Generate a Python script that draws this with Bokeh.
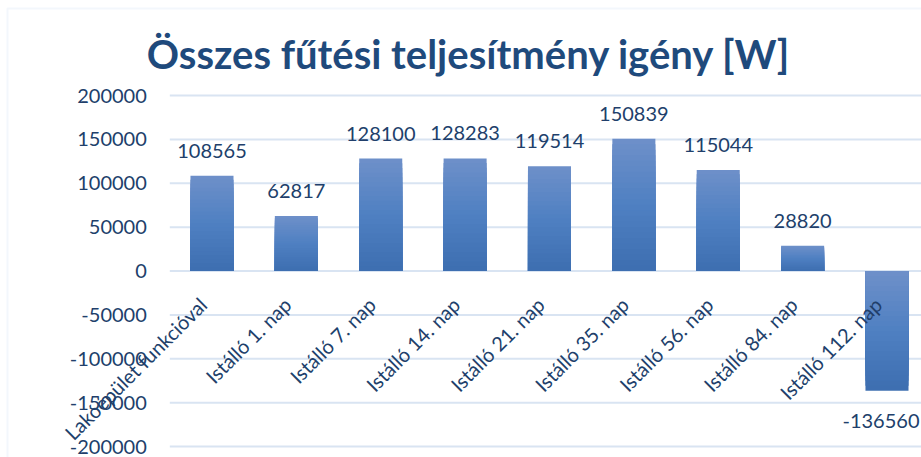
import math
from bokeh.plotting import figure
from bokeh.models import Range1d, ColumnDataSource, LabelSet, Label, BoxAnnotation
from bokeh.core.properties import value
from bokeh.embed import file_html
from bokeh.resources import INLINE

categories = ["Lakóépület funkcióval", "Istálló 1. nap", "Istálló 7. nap",
              "Istálló 14. nap", "Istálló 21. nap", "Istálló 35. nap",
              "Istálló 56. nap", "Istálló 84. nap", "Istálló 112. nap"]
values = [108565, 62817, 128100, 128283, 119514, 150839, 115044, 28820, -136560]
y_ticks = [-200000, -150000, -100000, -50000, 0, 50000, 100000, 150000, 200000]
y_tick_labels = ["-200000", "-150000", "-100000", "-50000", "0",
                 "50000", "100000", "150000", "200000"]
title_text = "Összes fűtési teljesítmény igény [W]"

FONT = "Lato"
TEXT_COLOR = "#213f6b"
TITLE_COLOR = "#1f4a7c"
GRID_COLOR = "#d9e4f2"
BORDER_COLOR = "#d6e4f5"
GRAD = [(110, 144, 201), (79, 128, 194), (61, 110, 176)]  # top, middle, bottom

W, H = 921, 457
# layout of the plotting area inside the canvas (pixels)
PLOT_LEFT, PLOT_TOP, PLOT_BOTTOM_VAL_PX = 169.3, 95, 446
CAT_W = 84.375            # pixels per category
Y_MIN, Y_MAX = y_ticks[0], y_ticks[-1]
PX_PER_UNIT = (PLOT_BOTTOM_VAL_PX - PLOT_TOP) / (Y_MAX - Y_MIN)

x_start = -0.5 - PLOT_LEFT / CAT_W
x_end = x_start + W / CAT_W
y_end = Y_MAX + PLOT_TOP / PX_PER_UNIT
y_start = y_end - H / PX_PER_UNIT


def px_x(px):
    return x_start + px / CAT_W


def px_y(py):
    return y_end - py / PX_PER_UNIT


def grad_color(t):
    if t <= 0.5:
        a, b, f = GRAD[0], GRAD[1], t / 0.5
    else:
        a, b, f = GRAD[1], GRAD[2], (t - 0.5) / 0.5
    r, g, bl = (round(a[i] + (b[i] - a[i]) * f) for i in range(3))
    return "#%02x%02x%02x" % (r, g, bl)


xs = list(range(len(categories)))

p = figure(width=W, height=H, output_backend="svg", toolbar_location=None,
           x_range=Range1d(x_start, x_end), y_range=Range1d(y_start, y_end),
           min_border=0)
p.outline_line_color = None
p.background_fill_color = "white"
p.border_fill_color = "white"
p.xaxis.visible = False
p.yaxis.visible = False
p.grid.visible = False

# chart area border
p.add_layout(BoxAnnotation(left=7, right=W + 40, top=8, bottom=H + 40,
                           left_units="canvas", right_units="canvas",
                           top_units="canvas", bottom_units="canvas",
                           fill_color=None, line_color=BORDER_COLOR, line_width=2,
                           level="underlay"))

# title
p.add_layout(Label(x=px_x(468.5), y=px_y(53), text=title_text,
                   text_align="center", text_baseline="alphabetic",
                   text_font=FONT, text_font_style="bold", text_font_size="40px",
                   text_color=TITLE_COLOR))

# horizontal gridlines across the category area
p.segment(x0=[-0.5] * len(y_ticks), x1=[x_end] * len(y_ticks),
          y0=y_ticks, y1=y_ticks, line_color=GRID_COLOR, line_width=2)

# y tick labels
ysrc = ColumnDataSource(dict(x=[-0.5] * len(y_ticks), y=y_ticks, t=y_tick_labels))
p.add_layout(LabelSet(x="x", y="y", text="t", source=ysrc, x_offset=-23,
                      text_align="right", text_baseline="middle",
                      text_font=value(FONT), text_font_size=value("20px"),
                      text_color=value(TEXT_COLOR)))

# bars with vertical gradient (light at top, darker at bottom)
N = 24
for k in range(N - 1, -1, -1):
    tops = [v * (k + 1) / N for v in values]
    cols = [grad_color(1 - (k + 0.5) / N) if v >= 0 else grad_color((k + 0.5) / N)
            for v in values]
    p.vbar(x=xs, top=tops, bottom=0, width=0.51, fill_color=cols, line_color=None)

# data labels
src = ColumnDataSource(dict(
    x=xs, top=values,
    label=[str(v) for v in values],
    yoff=[18 if v >= 0 else -37 for v in values],
    xoff=[0 if v >= 0 else -6 for v in values],
))
p.add_layout(LabelSet(x="x", y="top", text="label", source=src,
                      x_offset="xoff", y_offset="yoff",
                      text_align="center", text_baseline="alphabetic",
                      text_font=value(FONT), text_font_size=value("20px"),
                      text_color=value(TEXT_COLOR)))

# category labels, rotated 45 degrees, ending just below the zero line
csrc = ColumnDataSource(dict(x=xs, y=[0] * len(xs), cat=categories))
p.add_layout(LabelSet(x="x", y="y", text="cat", source=csrc,
                      angle=math.pi / 4, x_offset=-9, y_offset=-30,
                      text_align="right", text_baseline="middle",
                      text_font=value(FONT), text_font_size=value("20px"),
                      text_color=value(TEXT_COLOR)))

open("out.html", "w").write(file_html(p, INLINE))
